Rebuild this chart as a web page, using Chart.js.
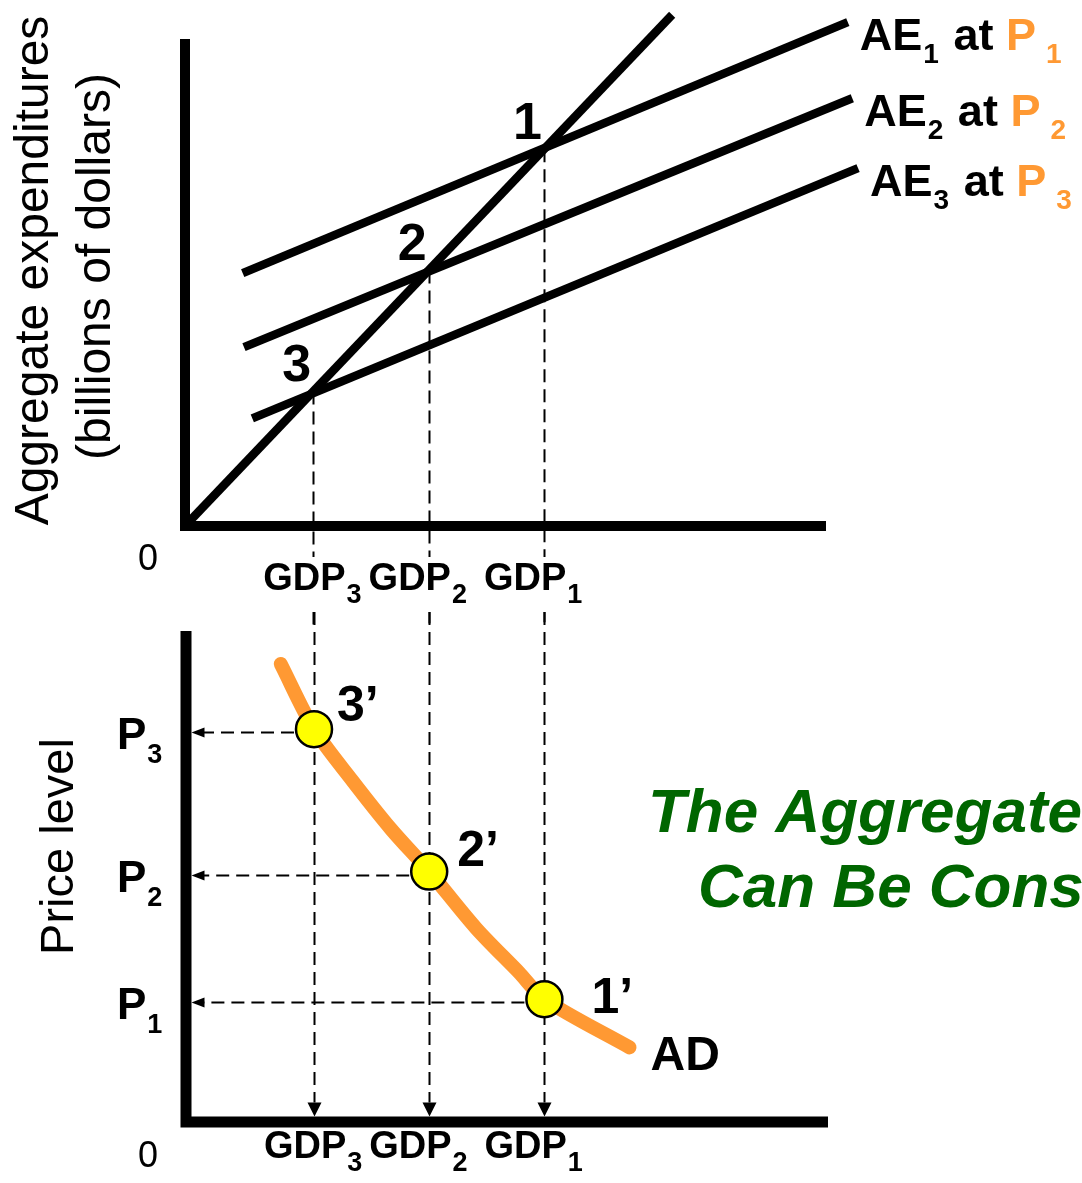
<!DOCTYPE html>
<html lang="en">
<head>
<meta charset="UTF-8">
<title>AE Model and Aggregate Demand</title>
<script src="https://cdn.jsdelivr.net/npm/chart.js@4.4.0/dist/chart.umd.min.js"></script>
<style>
  body { margin: 0; background: #fff; }
  .wrap { position: relative; width: 1082px; height: 1183px; overflow: hidden; }
  canvas { position: absolute; left: 0; top: 0; }
</style>
</head>
<body>
<div class="wrap">
  <canvas id="aeChart" width="1082" height="1183"></canvas>
  <canvas id="adChart" width="1082" height="1183"></canvas>
</div>
<script>
// equilibrium GDP for each price level (index 0 = GDP3, 1 = GDP2, 2 = GDP1)
const gdpLevels = [20, 38, 56];
const levelNames = ['3', '2', '1'];
// price levels on the AD panel (P3 highest, P1 lowest)
const priceLevels = [80, 51, 25];

// 45-degree line and the three aggregate expenditure lines
const incomeLine = [[0, 0], [76, 76]];
const ae1 = [[9, 37.6], [103.4, 74.9]];
const ae2 = [[9.2, 26.6], [104.1, 63.6]];
const ae3 = [[10.5, 16.0], [105, 53.2]];
const aeLines = [ae1, ae2, ae3];
const aeNames = ['1', '2', '3'];

// aggregate demand curve
const adCurve = [[14.8, 93.3], [20, 80], [26, 69.5], [32, 59.7], [38, 51], [45.3, 39.5], [52, 30.5], [56, 25], [69.3, 15.2]];

const FONT = "'Liberation Sans', Arial, sans-serif";
const ORANGE = '#FF9933';
const toPts = arr => arr.map(([x, y]) => ({ x, y }));

// draws a run of text pieces (main text + subscripts) starting at x
function drawRun(ctx, x, y, parts) {
  ctx.textAlign = 'left';
  ctx.textBaseline = 'alphabetic';
  for (const p of parts) {
    ctx.font = p.font;
    ctx.fillStyle = p.color || '#000';
    ctx.fillText(p.t, x, y + (p.dy || 0));
    x += ctx.measureText(p.t).width + (p.gap || 0);
  }
  return x;
}
function runWidth(ctx, parts) {
  let w = 0;
  for (const p of parts) { ctx.font = p.font; w += ctx.measureText(p.t).width + (p.gap || 0); }
  return w;
}
function gdpParts(n) {
  return [{ t: 'GDP', font: 'bold 38px ' + FONT, gap: 1 }, { t: n, font: 'bold 27px ' + FONT, dy: 13 }];
}
const gdpShift = [-50, -60, -60];

const aePlugin = {
  id: 'aeDecor',
  beforeDatasetsDraw(chart) {
    const { ctx, chartArea: a, scales: { x, y } } = chart;
    ctx.save();
    // axes
    ctx.strokeStyle = '#000';
    ctx.lineWidth = 10;
    ctx.lineJoin = 'miter';
    ctx.beginPath();
    ctx.moveTo(a.left, a.top);
    ctx.lineTo(a.left, a.bottom);
    ctx.lineTo(a.right, a.bottom);
    ctx.stroke();
    // dashed guides from each equilibrium down
    ctx.lineWidth = 2;
    ctx.setLineDash([13, 7]);
    gdpLevels.forEach(g => {
      const px = Math.round(x.getPixelForValue(g)) + 0.5;
      ctx.beginPath();
      ctx.moveTo(px, y.getPixelForValue(g));
      ctx.lineTo(px, chart.height * 0.53);
      ctx.stroke();
    });
    ctx.restore();
  },
  afterDatasetsDraw(chart) {
    const { ctx, chartArea: a, scales: { x, y } } = chart;
    ctx.save();
    // equilibrium numbers
    ctx.font = 'bold 52px ' + FONT;
    ctx.fillStyle = '#000';
    ctx.textAlign = 'right';
    ctx.textBaseline = 'alphabetic';
    gdpLevels.forEach((g, i) => {
      ctx.fillText(levelNames[i], x.getPixelForValue(g) - 2, y.getPixelForValue(g) - 10);
    });
    // AE line labels
    aeLines.forEach((line, i) => {
      const end = line[line.length - 1];
      const px = x.getPixelForValue(end[0]) + 12;
      const py = y.getPixelForValue(end[1]) + 28;
      drawRun(ctx, px, py, [
        { t: 'AE', font: 'bold 45px ' + FONT, gap: 1 },
        { t: aeNames[i], font: 'bold 28px ' + FONT, dy: 13, gap: 2 },
        { t: ' at ', font: 'bold 45px ' + FONT },
        { t: 'P', font: 'bold 45px ' + FONT, color: ORANGE, gap: 10 },
        { t: aeNames[i], font: 'bold 28px ' + FONT, color: ORANGE, dy: 13 }
      ]);
    });
    // GDP tick labels under the axis
    gdpLevels.forEach((g, i) => {
      const parts = gdpParts(levelNames[i]);
      const w = runWidth(ctx, parts);
      const sx = x.getPixelForValue(g) + gdpShift[i];
      const base = a.bottom + 64;
      ctx.fillStyle = '#fff';
      ctx.fillRect(sx - 2, base - 33, w + 4, 55);
      drawRun(ctx, sx, base, parts);
    });
    // origin
    ctx.font = '36px ' + FONT;
    ctx.fillStyle = '#000';
    ctx.textAlign = 'center';
    ctx.textBaseline = 'middle';
    ctx.fillText('0', a.left - 37, a.bottom + 34);
    // axis title
    ctx.translate(a.left - 118, (a.top + a.bottom) / 2);
    ctx.rotate(-Math.PI / 2);
    ctx.font = '48px ' + FONT;
    ctx.fillText('Aggregate expenditures', 12, -32);
    ctx.fillText('(billions of dollars)', 16, 30);
    ctx.restore();
  }
};

const adPlugin = {
  id: 'adDecor',
  beforeDatasetsDraw(chart) {
    const { ctx, chartArea: a, scales: { x, y } } = chart;
    ctx.save();
    ctx.strokeStyle = '#000';
    ctx.fillStyle = '#000';
    ctx.lineWidth = 11;
    ctx.lineJoin = 'miter';
    ctx.beginPath();
    ctx.moveTo(a.left, a.top);
    ctx.lineTo(a.left, a.bottom);
    ctx.lineTo(a.right + 2, a.bottom);
    ctx.stroke();
    const axisTop = a.bottom - 5.5;
    const axisRight = a.left + 5.5;
    // vertical dashed guides with arrows onto the GDP axis
    gdpLevels.forEach(g => {
      const px = Math.round(x.getPixelForValue(g)) + 0.5;
      ctx.lineWidth = 2;
      ctx.setLineDash([13, 7]);
      ctx.beginPath();
      ctx.moveTo(px, a.top - 19);
      ctx.lineTo(px, axisTop - 14);
      ctx.stroke();
      ctx.setLineDash([]);
      ctx.beginPath();
      ctx.moveTo(px, axisTop);
      ctx.lineTo(px - 7, axisTop - 14);
      ctx.lineTo(px + 7, axisTop - 14);
      ctx.closePath();
      ctx.fill();
    });
    // horizontal dashed guides with arrows onto the price axis
    priceLevels.forEach((p, i) => {
      const py = Math.round(y.getPixelForValue(p)) + 3.5;
      const px = x.getPixelForValue(gdpLevels[i]);
      ctx.lineWidth = 2;
      ctx.setLineDash([13, 7]);
      ctx.beginPath();
      ctx.moveTo(px, py);
      ctx.lineTo(axisRight + 12, py);
      ctx.stroke();
      ctx.setLineDash([]);
      ctx.beginPath();
      ctx.moveTo(axisRight, py);
      ctx.lineTo(axisRight + 13, py - 5);
      ctx.lineTo(axisRight + 13, py + 5);
      ctx.closePath();
      ctx.fill();
    });
    ctx.restore();
  },
  afterDatasetsDraw(chart) {
    const { ctx, chartArea: a, scales: { x, y } } = chart;
    ctx.save();
    ctx.fillStyle = '#000';
    // point labels 3', 2', 1'
    const primeOffsets = [[23, -8], [28, -6], [47, 14]];
    ctx.font = 'bold 50px ' + FONT;
    ctx.textAlign = 'left';
    ctx.textBaseline = 'alphabetic';
    gdpLevels.forEach((g, i) => {
      ctx.fillText(levelNames[i] + '\u2019', x.getPixelForValue(g) + primeOffsets[i][0], y.getPixelForValue(priceLevels[i]) + primeOffsets[i][1]);
    });
    // AD label at the end of the curve
    const last = adCurve[adCurve.length - 1];
    ctx.font = 'bold 48px ' + FONT;
    ctx.fillText('AD', x.getPixelForValue(last[0]) + 21, y.getPixelForValue(last[1]) + 23);
    // price tick labels
    priceLevels.forEach((p, i) => {
      drawRun(ctx, a.left - 69, y.getPixelForValue(p) + 20, [
        { t: 'P', font: 'bold 44px ' + FONT, gap: 1 },
        { t: levelNames[i], font: 'bold 27px ' + FONT, dy: 14 }
      ]);
    });
    // GDP tick labels
    gdpLevels.forEach((g, i) => {
      drawRun(ctx, x.getPixelForValue(g) + gdpShift[i], a.bottom + 36, gdpParts(levelNames[i]));
    });
    ctx.font = '36px ' + FONT;
    ctx.textAlign = 'center';
    ctx.textBaseline = 'middle';
    ctx.fillText('0', a.left - 38, a.bottom + 35);
    // title text in green
    ctx.fillStyle = '#006600';
    ctx.textAlign = 'left';
    ctx.textBaseline = 'alphabetic';
    ctx.font = 'italic bold 62px ' + FONT;
    ctx.fillText('The Aggregate Demand Curve', 648, 832);
    ctx.fillText('Can Be Constructed', 698, 907);
    // axis title
    ctx.fillStyle = '#000';
    ctx.textAlign = 'center';
    ctx.textBaseline = 'middle';
    ctx.translate(a.left - 126, (a.top + a.bottom) / 2);
    ctx.rotate(-Math.PI / 2);
    ctx.font = '47px ' + FONT;
    ctx.fillText('Price level', 30, 0);
    ctx.restore();
  }
};

const baseOptions = (padding, yMax) => ({
  responsive: false,
  devicePixelRatio: 1,
  animation: false,
  events: [],
  layout: { padding },
  scales: {
    x: { type: 'linear', min: 0, max: 100, display: false },
    y: { type: 'linear', min: 0, max: yMax, display: false }
  },
  plugins: { legend: { display: false }, tooltip: { enabled: false } }
});

new Chart(document.getElementById('aeChart'), {
  type: 'scatter',
  data: {
    datasets: [incomeLine, ...aeLines].map(line => ({
      data: toPts(line),
      showLine: true,
      borderColor: '#000',
      borderWidth: 8.5,
      borderCapStyle: 'butt',
      pointRadius: 0,
      clip: false
    }))
  },
  options: baseOptions({ left: 185, right: 256, top: 39, bottom: 657 }, 72.4),
  plugins: [aePlugin]
});

new Chart(document.getElementById('adChart'), {
  type: 'scatter',
  data: {
    datasets: [
      {
        data: gdpLevels.map((g, i) => ({ x: g, y: priceLevels[i] })),
        pointRadius: 18,
        pointBackgroundColor: '#FFFF00',
        pointBorderColor: '#000',
        pointBorderWidth: 2.5,
        clip: false
      },
      {
        data: toPts(adCurve),
        showLine: true,
        borderColor: ORANGE,
        borderWidth: 14,
        borderCapStyle: 'round',
        borderJoinStyle: 'round',
        tension: 0.3,
        pointRadius: 0,
        clip: false
      }
    ]
  },
  options: baseOptions({ left: 186, right: 256, top: 631, bottom: 61 }, 100),
  plugins: [adPlugin]
});
</script>
</body>
</html>
